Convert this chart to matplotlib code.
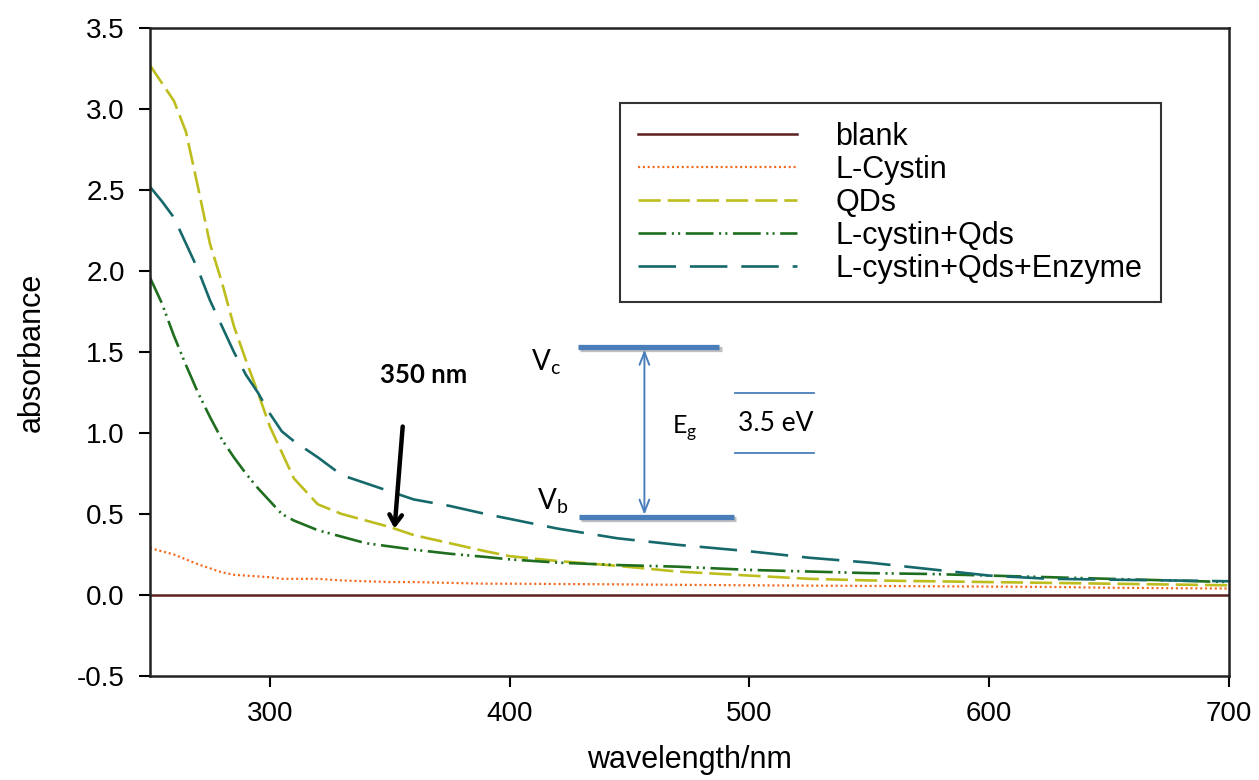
import matplotlib
matplotlib.use('Agg')
import matplotlib.pyplot as plt
import matplotlib.patheffects as pe

plt.rcParams['font.family'] = ['Liberation Sans', 'DejaVu Sans']
plt.rcParams['lines.scale_dashes'] = False
plt.rcParams['mathtext.fontset'] = 'custom'
plt.rcParams['mathtext.rm'] = 'Lato'

# UV-Vis spectra
wl = [250, 255, 260, 265, 270, 275, 280, 285, 290, 295, 300, 305, 310, 320, 330,
      340, 350, 360, 375, 390, 400, 420, 445, 470, 500, 525, 550, 575, 600, 625,
      650, 675, 700]

blank = [0.0] * len(wl)
l_cystin = [0.29, 0.27, 0.25, 0.22, 0.19, 0.165, 0.14, 0.125, 0.12, 0.115, 0.11,
            0.10, 0.10, 0.10, 0.09, 0.085, 0.08, 0.08, 0.075, 0.07, 0.07, 0.068,
            0.066, 0.063, 0.06, 0.058, 0.056, 0.054, 0.052, 0.05, 0.045, 0.042, 0.04]
qds = [3.27, 3.16, 3.05, 2.86, 2.52, 2.17, 1.93, 1.66, 1.45, 1.25, 1.04, 0.88,
       0.72, 0.56, 0.50, 0.46, 0.42, 0.37, 0.32, 0.27, 0.24, 0.21, 0.18, 0.145,
       0.12, 0.10, 0.09, 0.085, 0.08, 0.075, 0.07, 0.065, 0.06]
cystin_qds = [1.96, 1.80, 1.60, 1.42, 1.25, 1.10, 0.96, 0.85, 0.75, 0.66, 0.58,
              0.50, 0.46, 0.40, 0.36, 0.32, 0.30, 0.28, 0.255, 0.235, 0.22, 0.20,
              0.185, 0.175, 0.155, 0.145, 0.135, 0.13, 0.12, 0.11, 0.10, 0.09, 0.08]
cystin_qds_enz = [2.52, 2.43, 2.33, 2.17, 2.01, 1.82, 1.66, 1.50, 1.36, 1.25, 1.12,
                  1.01, 0.95, 0.85, 0.74, 0.69, 0.64, 0.59, 0.55, 0.50, 0.47, 0.41,
                  0.35, 0.31, 0.27, 0.23, 0.20, 0.16, 0.12, 0.10, 0.095, 0.09, 0.085]

labels = ['blank', 'L-Cystin', 'QDs', 'L-cystin+Qds', 'L-cystin+Qds+Enzyme']

fig = plt.figure(figsize=(12.59, 7.8), dpi=100)
ax = fig.add_axes([0.1191, 0.1333, 0.8571, 0.8308])

ax.plot(wl, blank, color='#5c1f1f', lw=1.8, label=labels[0])
ax.plot(wl, l_cystin, color='#f26b21', lw=1.6, dashes=(1.5, 2), label=labels[1])
ax.plot(wl, qds, color='#bdbd1e', lw=1.9, dashes=(16, 5), label=labels[2])
ax.plot(wl, cystin_qds, color='#1f6e1f', lw=1.9, dashes=(20, 4, 1.5, 3, 1.5, 4),
        label=labels[3])
ax.plot(wl, cystin_qds_enz, color='#16696b', lw=1.9, dashes=(27, 10), label=labels[4])

ax.set_xlim(250, 700)
ax.set_ylim(-0.5, 3.5)
ax.set_xticks([300, 400, 500, 600, 700])
ax.set_yticks([-0.5, 0.0, 0.5, 1.0, 1.5, 2.0, 2.5, 3.0, 3.5])
ax.set_yticklabels(['-0.5', '0.0', '0.5', '1.0', '1.5', '2.0', '2.5', '3.0', '3.5'])
ax.tick_params(direction='out', length=8, width=1.5, labelsize=20, pad=10)
for s in ax.spines.values():
    s.set_linewidth(1.8)
    s.set_color('#222222')

ax.set_xlabel('wavelength/nm', fontsize=22, labelpad=13)
ax.set_ylabel('absorbance', fontsize=22, labelpad=22)

leg = ax.legend(loc='upper left', bbox_to_anchor=(0.4356, 0.884), borderaxespad=0,
                fontsize=22, frameon=True, fancybox=False, edgecolor='black',
                handlelength=5.2, handletextpad=1.25, labelspacing=0.1,
                borderpad=0.6)
leg.get_frame().set_linewidth(1.5)

# band gap sketch
blue = '#4a7ebb'
shadow = [pe.SimpleLineShadow(offset=(1.5, -1.5), shadow_color='gray', alpha=0.5),
          pe.Normal()]
ax.plot([428.5, 487.5], [1.53, 1.53], color=blue, lw=3.8, solid_capstyle='butt',
        path_effects=shadow)
ax.plot([429, 493.5], [0.48, 0.48], color=blue, lw=3.8, solid_capstyle='butt',
        path_effects=shadow)
ax.annotate('', xy=(456.2, 1.515), xytext=(456.2, 0.495),
            arrowprops=dict(arrowstyle='<->,head_length=0.9,head_width=0.35',
                            color=blue, lw=1.4, shrinkA=0, shrinkB=0))
ax.plot([493.8, 527], [1.247, 1.247], color=blue, lw=1.3)
ax.plot([493.8, 527], [0.877, 0.877], color=blue, lw=1.3)

ax.text(415, 1.44, r'V$_\mathrm{c}$', fontsize=20, family='Lato', ha='center', va='center')
ax.text(418, 0.58, r'V$_\mathrm{b}$', fontsize=20, family='Lato', ha='center', va='center')
ax.text(473, 1.03, r'E$_\mathrm{g}$', fontsize=18, family='Lato', ha='center', va='center')
ax.text(511, 1.06, '3.5 eV', fontsize=19, family='Lato', ha='center', va='center')

ax.text(364, 1.36, '350 nm', fontsize=18.5, family='Lato', fontweight='bold',
        ha='center', va='center')
ax.annotate('', xy=(352, 0.41), xytext=(355.4, 1.04),
            arrowprops=dict(arrowstyle='->,head_length=0.7,head_width=0.45',
                            color='black', lw=3.2, shrinkA=0, shrinkB=0))

fig.savefig('out.png', dpi=100)
